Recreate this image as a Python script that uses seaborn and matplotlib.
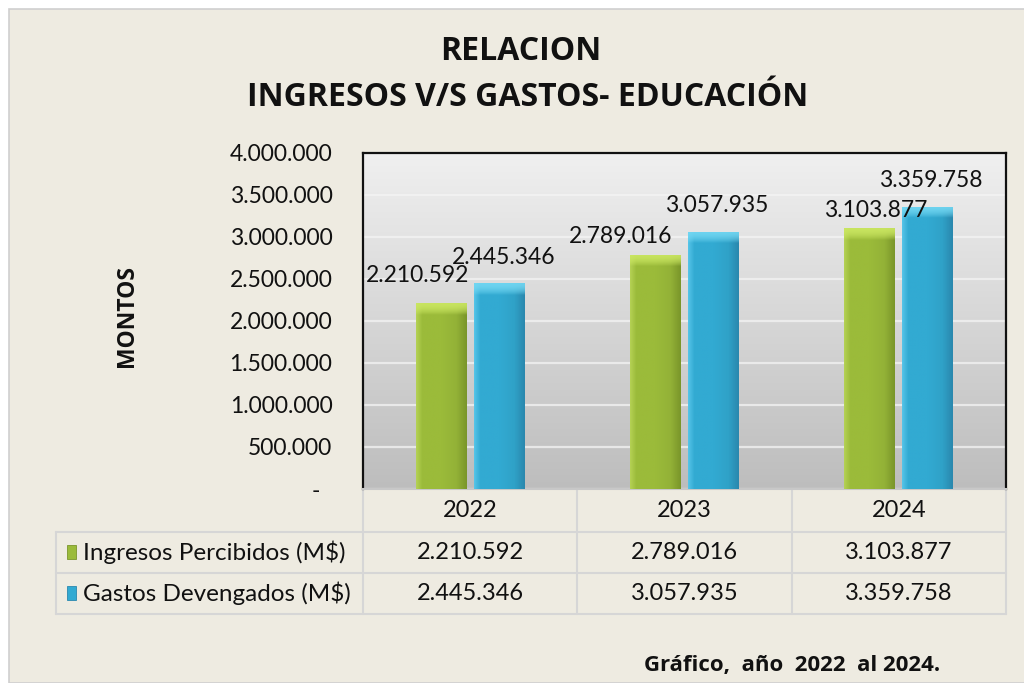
import numpy as np
import pandas as pd
import matplotlib
matplotlib.use("Agg")
import matplotlib.pyplot as plt
import matplotlib.transforms as mtransforms
from matplotlib.colors import LinearSegmentedColormap, to_rgb
from matplotlib.patches import Rectangle
from matplotlib.lines import Line2D
from matplotlib.ticker import FuncFormatter, MultipleLocator
import seaborn as sns

# ---------------- data ----------------
years = ["2022", "2023", "2024"]
series = ["Ingresos Percibidos (M$)", "Gastos Devengados (M$)"]
ingresos = [2210592, 2789016, 3103877]
gastos = [2445346, 3057935, 3359758]
title_lines = ["RELACION", "INGRESOS V/S GASTOS- EDUCACIÓN"]
y_label = "MONTOS"
caption = "Gráfico,  año  2022  al 2024."

# ---------------- style ----------------
sns.set_theme(style="white")
plt.rcParams["font.family"] = ["Lato", "DejaVu Sans"]
BOLD_FAMILY = ["Open Sans", "DejaVu Sans"]

BG = "#EEEBE1"
GREEN = "#9BBB3A"
BLUE = "#32AAD2"
shades = {
    GREEN: dict(light="#B4D154", dark="#7A962A", cap="#CCE863"),
    BLUE: dict(light="#55C4E8", dark="#2A88AE", cap="#74D8F3"),
}
palette = [GREEN, BLUE]
# label offsets (points) relative to bar top-centre
label_offsets = [
    [(-17, 20), (-25, 13), (4, 13)],   # ingresos
    [(3, 19), (2, 19), (2, 19)],       # gastos
]

df = pd.DataFrame({
    "Año": years * 2,
    "Serie": [series[0]] * 3 + [series[1]] * 3,
    "Monto": ingresos + gastos,
})

fig = plt.figure(figsize=(10.24, 6.83), dpi=100, facecolor="white")
fig.patches.append(Rectangle((9 / 1024, 0), 1, 1 - 9 / 683, transform=fig.transFigure,
                             facecolor=BG, edgecolor="#CFCFCF", lw=1.2, zorder=-10))

AX = [0.3545, 0.284, 0.628, 0.4924]
ax = fig.add_axes(AX)
ax.set_facecolor("#D8D8D8")

YMAX = 4_000_000
grad = np.linspace(0, 1, 256).reshape(-1, 1)
cmap_bg = LinearSegmentedColormap.from_list("bg", ["#F0F0F0", "#BDBDBD"])
ax.imshow(grad, extent=[-0.5, 2.5, 0, YMAX], aspect="auto", cmap=cmap_bg,
          origin="upper", zorder=0)

sns.barplot(data=df, x="Año", y="Monto", hue="Serie", palette=palette,
            width=0.54, gap=0.12, legend=False, ax=ax, zorder=2,
            saturation=1, errorbar=None)

ax.set_xlim(-0.5, 2.5)
ax.set_ylim(0, YMAX)
ax.yaxis.set_major_locator(MultipleLocator(500000))
ax.grid(axis="y", color="#F4F4F4", lw=1.6, alpha=0.75, zorder=1)
ax.set_axisbelow(True)

ax_h_px = AX[3] * 683


def hex_rgb(c):
    return np.array(to_rgb(c))


for i, cont in enumerate(ax.containers):
    base = palette[i]
    sh = shades[base]
    for j, bar in enumerate(cont):
        x0, w, h = bar.get_x(), bar.get_width(), bar.get_height()
        t = np.linspace(0, 1, 60)
        stops = [0, 0.12, 0.5, 0.8, 1]
        cols = [hex_rgb(sh["light"]), hex_rgb(base), hex_rgb(base),
                hex_rgb(base) * 0.95, hex_rgb(sh["dark"])]
        prof = np.stack([np.interp(t, stops, [c[k] for c in cols]) for k in range(3)], axis=1)
        nrows = 400
        img = np.repeat(prof[None, :, :], nrows, axis=0)
        h_px = h / YMAX * ax_h_px
        cap_rows = max(1, int(nrows * 12 / h_px))
        cap = hex_rgb(sh["cap"])
        for r in range(cap_rows):
            frac = 0.9 * (1 - (r / cap_rows) ** 2)
            img[r] = img[r] * (1 - frac) + cap * frac
        bar.set_edgecolor("none")
        im = ax.imshow(img, extent=[x0, x0 + w, 0, h], aspect="auto", origin="upper",
                       zorder=3, interpolation="bilinear")
        im.set_clip_path(bar)
        dx, dy = label_offsets[i][j]
        ax.annotate(f"{h:,.0f}".replace(",", "."), xy=(x0 + w / 2, h),
                    xytext=(dx, dy), textcoords="offset points",
                    ha="center", va="center", fontsize=16.5, color="#111111", zorder=5)

ax.set_xlim(-0.5, 2.5)
ax.set_ylim(0, YMAX)

ax.yaxis.set_major_formatter(FuncFormatter(
    lambda v, p: "-  " if v == 0 else f"{v:,.0f}".replace(",", ".")))
ax.tick_params(axis="y", length=0, pad=22, labelsize=16.5, labelcolor="#111111")
ax.tick_params(axis="x", length=0, labelbottom=False)
ax.set_xlabel("")
ax.set_ylabel("")

for s in ["left", "top", "right"]:
    ax.spines[s].set_color("#111111")
    ax.spines[s].set_linewidth(1.6)
ax.spines["bottom"].set_color("#C8C8C8")
ax.spines["bottom"].set_linewidth(1.5)

# ---------------- data table ----------------
tr_data = mtransforms.blended_transform_factory(ax.transData, ax.transAxes)
tr_fig = mtransforms.blended_transform_factory(fig.transFigure, ax.transAxes)
row_edges = [0, -0.128, -0.250, -0.372]
row_centers = [-0.064, -0.189, -0.311]
legend_left = 56 / 1024
ax_right = AX[0] + AX[2]
line_kw = dict(color="#D6D6D6", lw=1.5, clip_on=False, zorder=1)

for xb in [-0.5, 0.5, 1.5, 2.5]:
    ax.add_line(Line2D([xb, xb], [row_edges[0], row_edges[-1]], transform=tr_data, **line_kw))
fig.add_artist(Line2D([legend_left, legend_left], [row_edges[1], row_edges[-1]],
                      transform=tr_fig, **line_kw))
for yb in row_edges[1:]:
    fig.add_artist(Line2D([legend_left, ax_right], [yb, yb], transform=tr_fig, **line_kw))

for k, yr in enumerate(years):
    ax.text(k, row_centers[0], yr, transform=tr_data, ha="center", va="center",
            fontsize=17, color="#111111")
for r, vals in enumerate([ingresos, gastos]):
    for k, v in enumerate(vals):
        ax.text(k, row_centers[r + 1], f"{v:,.0f}".replace(",", "."), transform=tr_data,
                ha="center", va="center", fontsize=17, color="#111111")
    fig.add_artist(Rectangle((67 / 1024, row_centers[r + 1] - 0.02), 9 / 1024, 0.042,
                             transform=tr_fig, facecolor=palette[r],
                             edgecolor=shades[palette[r]]["dark"], lw=0.6))
    t = fig.text(0, 0, series[r], transform=tr_fig, fontsize=17.5,
                 color="#111111", ha="left", va="center")
    t.set_position((83 / 1024, row_centers[r + 1]))

# ---------------- titles ----------------
fig.text(0.509, 1 - 52 / 683, title_lines[0], ha="center", va="center", family=BOLD_FAMILY,
         fontsize=23, fontweight="bold", color="#111111")
fig.text(0.515, 1 - 97 / 683, title_lines[1], ha="center", va="center", family=BOLD_FAMILY,
         fontsize=23, fontweight="bold", color="#111111")
fig.text(127 / 1024, 1 - 316 / 683, y_label, rotation=90, ha="center", va="center",
         family=BOLD_FAMILY, fontsize=16.5, fontweight="bold", color="#111111")
fig.text(940 / 1024, 1 - 665 / 683, caption, ha="right", va="center", family=BOLD_FAMILY,
         fontsize=16, fontweight="bold", color="#111111")

fig.savefig("out.png", dpi=100, facecolor=fig.get_facecolor())
